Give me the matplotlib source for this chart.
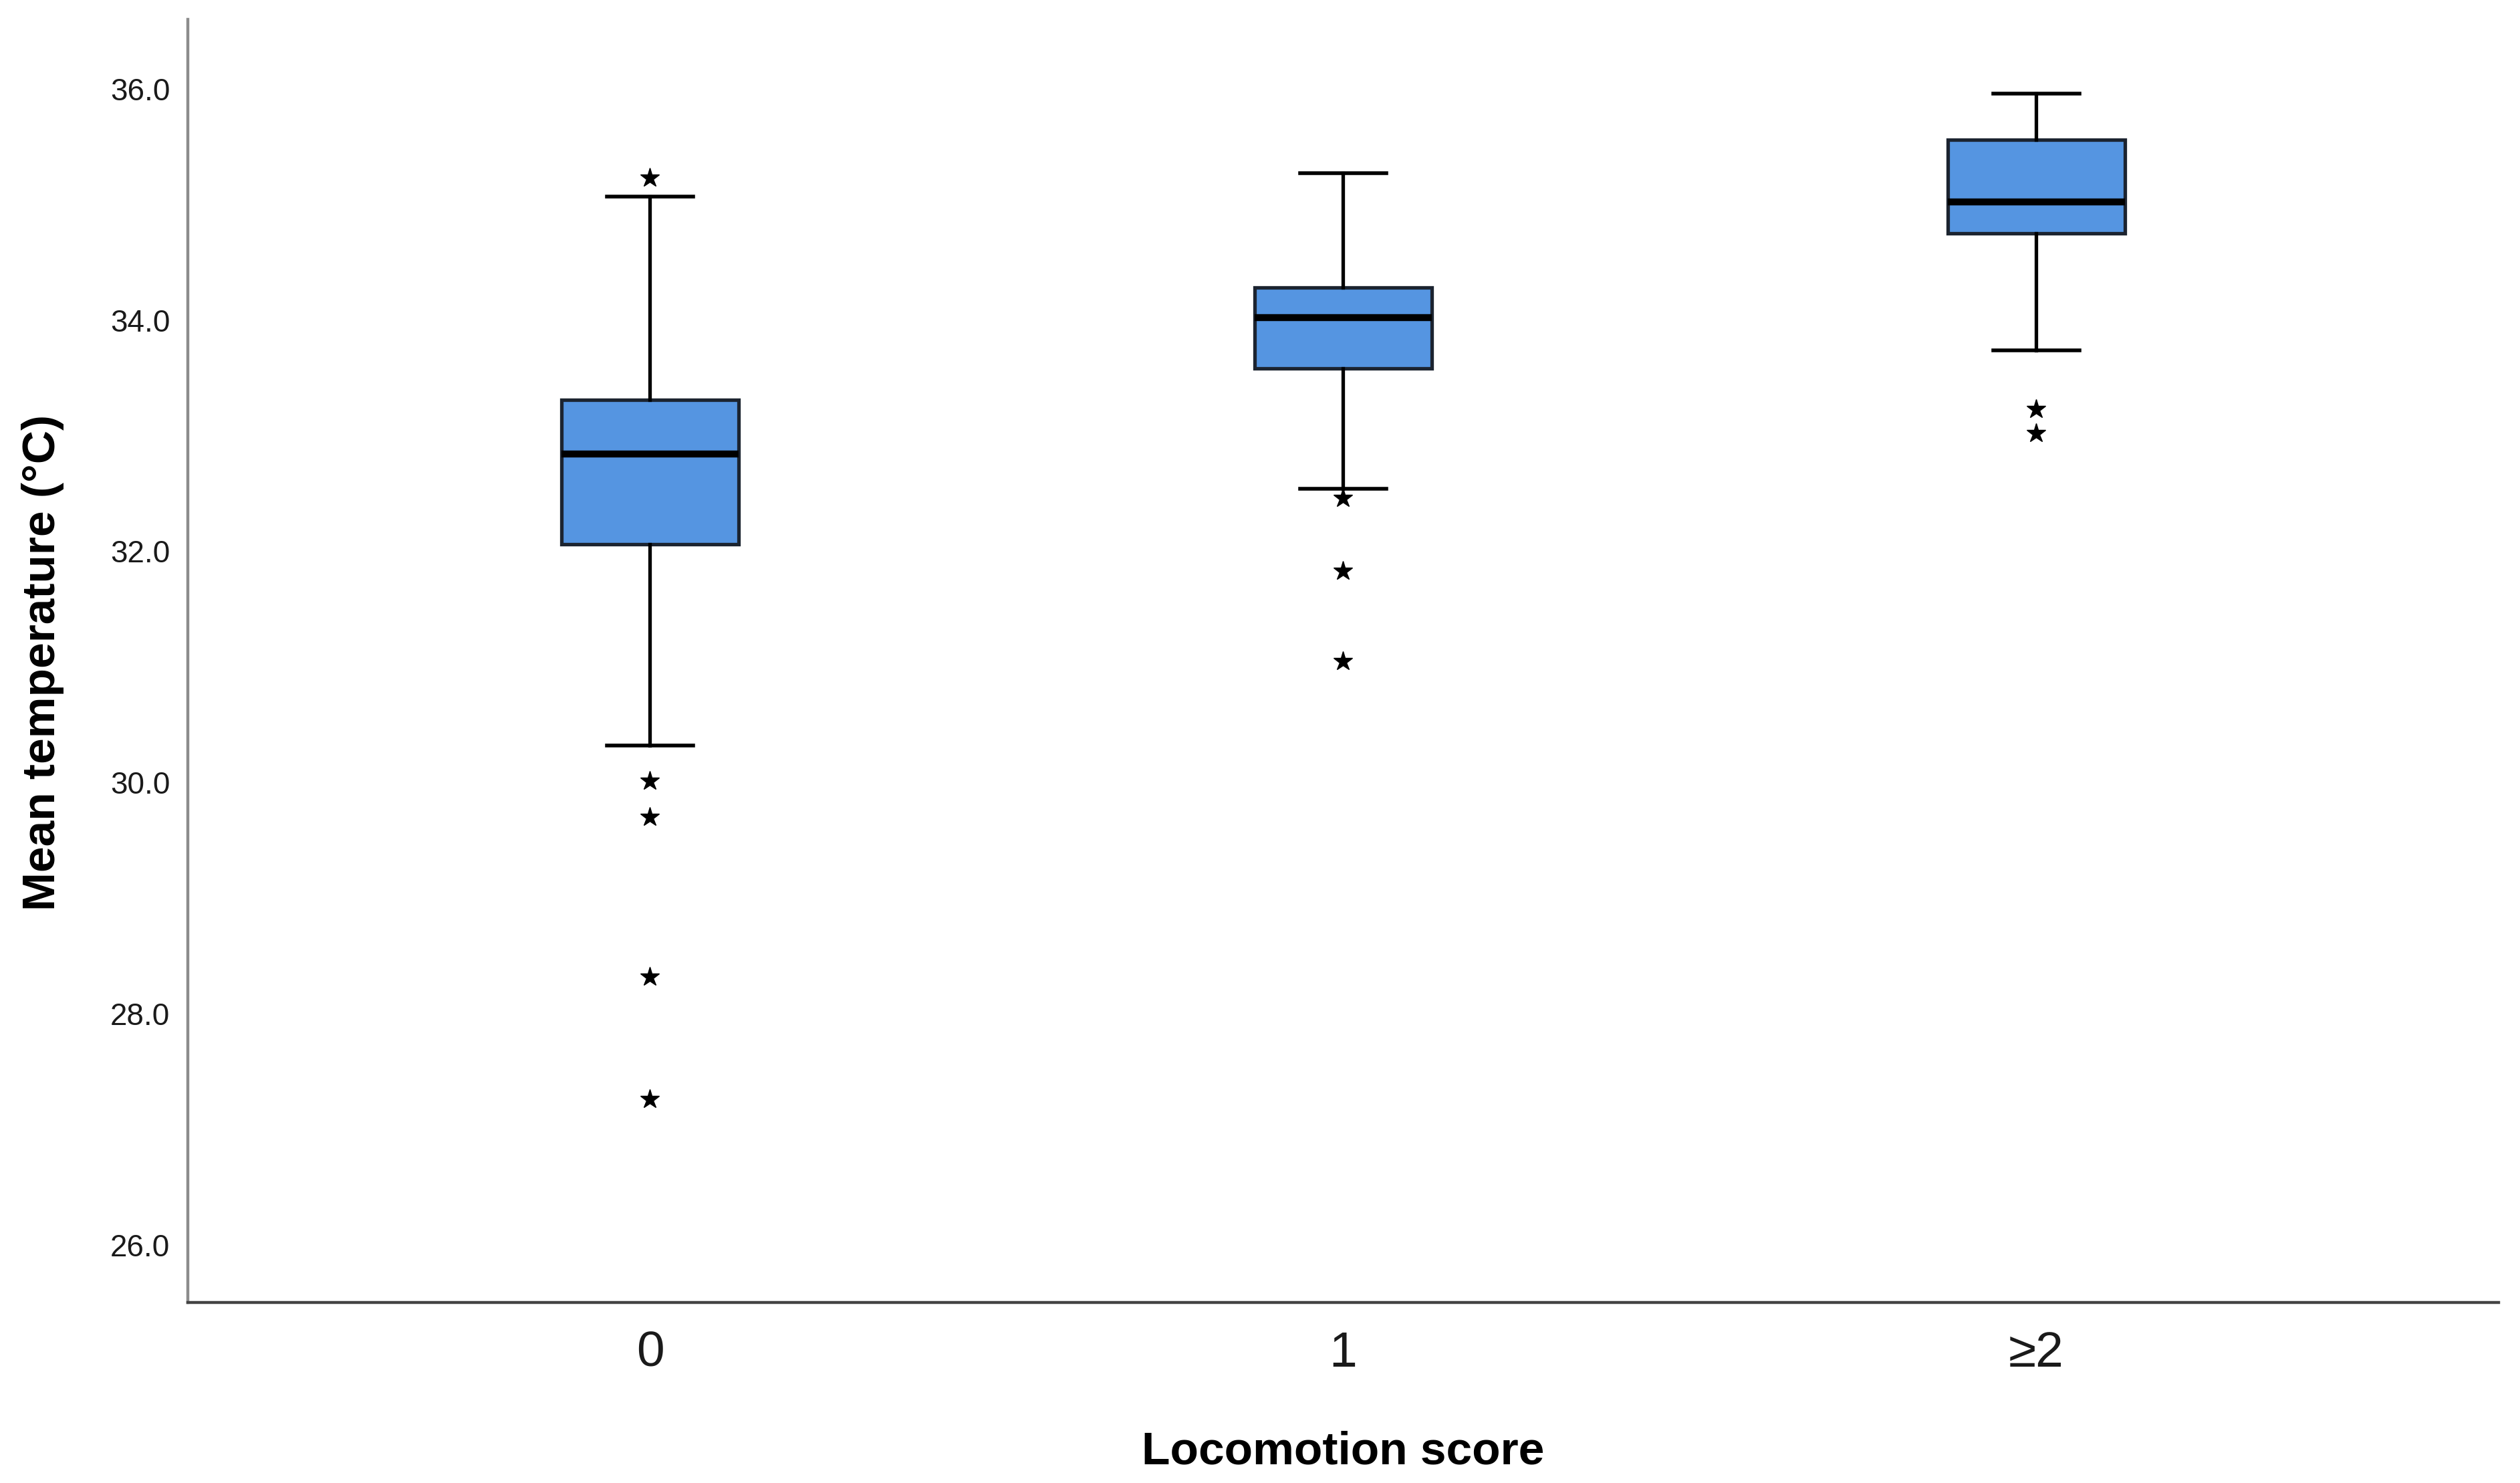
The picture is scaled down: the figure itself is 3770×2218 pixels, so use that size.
import matplotlib
matplotlib.use("Agg")
import matplotlib.pyplot as plt

# values (Mean temperature, deg C)
groups = ['0', '1', '≥2']
q1 = [32.06, 33.58, 34.75]
medians = [32.84, 34.02, 35.02]
q3 = [33.31, 34.28, 35.56]
whisker_low = [30.32, 32.54, 33.74]
whisker_high = [35.07, 35.27, 35.96]
outliers = [
    [35.23, 30.01, 29.70, 28.32, 27.26],
    [32.46, 31.83, 31.05],
    [33.23, 33.02],
]

plt.rcParams['font.family'] = ['Liberation Sans', 'DejaVu Sans']

stats = []
for i in range(len(groups)):
    stats.append({
        'label': groups[i],
        'q1': q1[i],
        'med': medians[i],
        'q3': q3[i],
        'whislo': whisker_low[i],
        'whishi': whisker_high[i],
        'fliers': outliers[i],
    })

fig = plt.figure(figsize=(37.7, 22.18), dpi=100)
ax = fig.add_axes([0.0745, 0.1217, 0.917, 0.8652])

ax.bxp(
    stats,
    positions=[0, 1, 2],
    widths=0.255,
    capwidths=0.125,
    patch_artist=True,
    boxprops=dict(facecolor='#5595e1', edgecolor='#1c2430', linewidth=3.8),
    medianprops=dict(color='black', linewidth=7.5),
    whiskerprops=dict(color='black', linewidth=3.8),
    capprops=dict(color='black', linewidth=4),
    flierprops=dict(marker='*', markersize=21, markerfacecolor='black',
                    markeredgecolor='black', linestyle='none'),
)

ax.set_xlim(-0.667, 2.667)
ax.set_ylim(25.5, 36.6)
ax.set_yticks([26, 28, 30, 32, 34, 36])
ax.set_yticklabels(['26.0', '28.0', '30.0', '32.0', '34.0', '36.0'])
ax.set_xticks([0, 1, 2])
ax.set_xticklabels(groups)

ax.tick_params(axis='y', length=0, pad=19, labelsize=33, labelcolor='#1a1a1a')
ax.tick_params(axis='x', length=0, pad=30, labelsize=54, labelcolor='#1a1a1a')

for side in ['top', 'right']:
    ax.spines[side].set_visible(False)
ax.spines['left'].set_color('#8c8c8c')
ax.spines['left'].set_linewidth(3.2)
ax.spines['bottom'].set_color('#444444')
ax.spines['bottom'].set_linewidth(3.2)

ax.set_xlabel('Locomotion score', fontsize=50, fontweight='bold', va='center')
ax.xaxis.set_label_coords(0.5, -0.1163)
ax.set_ylabel('Mean temperature (°C)', fontsize=50, fontweight='bold', va='center')
ax.yaxis.set_label_coords(-0.0628, 0.499)

fig.savefig('out.png', dpi=100, facecolor='white')
